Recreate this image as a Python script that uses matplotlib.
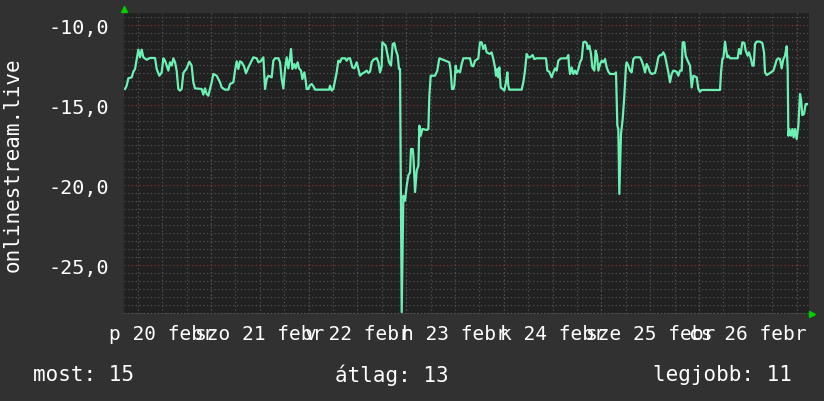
import numpy as np
import matplotlib.pyplot as plt
from matplotlib.ticker import MultipleLocator, FuncFormatter

plt.rcParams['font.family'] = 'DejaVu Sans Mono'

# hours since feb 20 00:00, value
hours = [2.85, 3.26, 3.67, 4.49, 4.90, 5.31, 5.72, 6.13, 6.54, 6.95, 7.36, 8.18, 9.0, 10.23,
         10.64, 11.29, 11.87, 12.28, 12.69, 13.1, 13.51, 13.92, 14.33, 14.74, 15.15, 15.55,
         15.96, 16.37, 16.78, 17.19, 18.01, 18.67, 19.24, 19.65, 20.06, 21.70, 22.11, 22.52,
         22.93, 23.34, 23.75, 24.16, 24.57, 25.39, 26.21, 26.62, 27.44, 28.26, 28.67, 29.49,
         29.9, 30.31, 30.72, 31.13, 31.54, 32.11, 32.6, 33.18, 34.0, 34.41, 35.23, 35.64,
         36.21, 36.87, 37.28, 37.69, 38.1, 38.92,
         39.33, 39.74, 40.56, 40.97, 41.38, 41.79, 42.2, 42.61, 43.02, 43.43, 43.67, 44.0,
         44.49, 44.82, 45.31, 45.64, 46.13, 46.46, 46.95, 47.28, 47.53, 47.94, 48.35, 48.76,
         49.17, 49.58, 53.02, 53.26, 53.67, 54.08, 54.49, 54.9, 55.31, 55.72, 56.13, 56.95,
         57.36, 57.77, 58.18, 58.76, 59.25, 59.82, 60.23, 60.64, 61.05, 61.71, 62.28, 62.69,
         63.1, 63.51, 63.92, 64.74, 65.15, 65.56, 65.97, 66.13, 66.54, 66.95, 67.45, 67.77,
         68.26, 68.67, 69.08, 69.49, 69.9, 70.23, 70.48,
         70.89, 71.3, 71.71, 72.12, 72.53, 72.94, 73.18, 73.59, 73.76, 74.17, 74.58, 74.99,
         75.23, 75.56, 75.97, 77.03, 77.44, 77.69, 78.02, 79.08,
         79.65, 80.14, 82.6, 82.93, 83.26, 83.59, 83.83, 84.16, 84.41, 84.82, 85.23, 85.64,
         86.05, 87.68, 88.09, 88.5, 88.91, 89.32, 89.73, 90.14, 90.55, 90.96, 91.37, 91.78,
         92.6, 93.01, 93.42, 93.83, 94.08, 94.41, 94.65, 94.9, 95.23, 95.72, 96.13, 96.54,
         96.87, 97.11, 97.36, 100.39, 100.8, 101.21, 101.62, 102.03, 102.44, 103.1, 103.5,
         104.08, 106.37, 106.7, 107.19, 107.77, 108.18, 108.59, 109.0, 109.41, 109.82,
         110.23, 111.46, 111.87, 112.03, 112.28, 112.69, 113.1, 113.51, 113.92, 114.33,
         114.74, 115.15, 115.56, 115.97, 116.38, 116.62, 117.03, 117.44, 117.77, 118.26,
         118.59, 118.92, 119.25, 119.66, 120.07, 120.48, 120.89, 121.3, 121.71, 122.12,
         123.35, 123.59, 123.92, 124.16, 124.41, 124.82, 125.23, 125.64, 126.05,
         126.21, 126.62, 127.03, 127.44, 127.85, 128.26, 129.49, 129.9, 130.31, 130.72,
         131.13, 131.54, 131.95, 132.36, 133.18, 133.59, 134.0, 134.41, 134.82, 135.23,
         135.64, 136.05, 136.46, 136.87, 137.28, 137.69, 138.51, 138.92, 139.33, 139.74,
         139.98, 140.39, 140.72, 141.21, 141.79, 142.2, 142.61, 143.43, 143.84, 144.08,
         144.25, 144.66, 149.17, 149.41, 149.74, 149.99, 150.4, 150.64, 150.97, 151.22,
         151.63, 153.51, 153.84, 154.25, 154.66, 155.15, 155.48, 155.97, 156.3, 156.79,
         157.12, 157.45, 157.77, 158.18, 159.0, 159.58, 159.99, 160.23, 160.64, 161.71,
         162.28, 162.69, 163.1, 163.51, 163.92, 164.33, 164.74, 165.15, 165.56, 165.81,
         165.97, 166.22, 166.63, 166.96, 167.28, 167.61, 168.02, 168.43, 168.84, 169.09,
         169.41, 169.82, 170.23, 170.56]
values = [-14.0, -13.79, -13.33, -13.27, -12.92, -12.75, -12.13, -11.54, -12.02, -11.54, -12.02,
          -12.17, -12.06, -12.06, -12.75, -13.17, -12.96, -12.08, -12.23, -12.54, -12.85,
          -12.33, -12.54, -12.08, -12.33, -12.85, -14.0, -14.1, -14.0, -13.0, -12.71, -12.29,
          -12.54, -13.58, -13.96, -14.0, -14.35, -13.96, -14.31, -14.42, -14.0, -13.58,
          -13.06, -13.17, -13.58, -13.9, -14.04, -14.04, -13.69, -13.58, -12.85, -12.27,
          -12.75, -12.27, -12.33, -12.58, -13.02, -12.65, -12.23, -12.02, -12.08, -12.33,
          -12.27, -12.02, -14.0, -13.38, -13.17, -13.27,
          -12.23, -12.08, -12.08, -12.33, -13.38, -13.96, -12.75, -12.02, -12.71, -12.02,
          -11.5, -12.75, -12.44, -12.71, -12.33, -12.71, -12.85, -13.38, -12.96, -13.48,
          -14.0, -14.0, -13.75, -13.69, -13.83, -14.04, -14.04, -13.79, -14.1, -14.0, -13.48,
          -12.96, -12.23, -12.33, -12.08, -12.08, -12.23, -12.08, -12.08, -12.65, -12.71,
          -12.33, -12.75, -13.17, -13.06, -12.96, -12.85, -13.0, -12.92, -12.33, -12.17,
          -12.06, -12.33, -12.96, -12.58, -11.08, -11.19, -11.29, -11.92, -12.33, -12.54,
          -11.19, -11.13, -11.6, -11.92, -12.75, -12.75,
          -27.94, -20.67, -20.98, -20.04, -19.4, -19.21, -17.75, -17.75, -18.17, -20.44,
          -19.1, -18.79, -16.29, -16.92, -16.5, -16.56, -16.5, -14.42, -13.17, -13.17,
          -12.85, -12.08, -12.33, -12.85, -14.0, -14.0, -13.79, -12.54, -12.96, -12.85,
          -12.96, -12.44, -12.08, -12.08, -12.54, -12.58, -12.23, -12.17, -12.08, -11.08,
          -11.08, -11.5, -11.25, -11.71, -11.81, -11.71, -12.13, -12.65, -13.17, -12.75,
          -13.27, -12.65, -13.9, -14.0, -14.1, -13.58, -12.96, -13.79, -14.04, -14.04,
          -13.58, -12.85, -11.81, -12.02, -12.02, -11.88, -12.13, -12.08, -12.08, -12.85,
          -12.92, -13.27, -12.96, -12.71, -12.85, -12.23, -12.13,
          -12.08, -12.08, -11.88, -12.54, -13.06, -12.65, -13.06, -12.85, -13.06, -12.75,
          -12.33, -12.13, -11.08, -11.04, -11.13, -11.5, -11.29, -11.81, -12.65, -12.85,
          -11.6, -11.92, -12.85, -12.44, -12.23, -12.33, -12.13, -12.65, -12.92, -13.06,
          -13.06, -12.96, -16.29, -16.5, -20.56, -16.8, -15.88, -14.42, -12.54,
          -12.33, -12.54, -12.85, -12.96, -12.13, -12.02, -12.02, -12.23, -12.54, -12.96,
          -12.44, -12.65, -12.96, -13.06, -13.0, -12.58, -12.02, -11.88, -11.88, -11.71,
          -11.92, -12.44, -12.96, -13.58, -13.06, -12.85, -12.92, -13.17, -12.85, -12.85,
          -11.08, -11.08, -11.92, -12.23, -12.54, -13.9, -13.17, -13.27, -14.0, -14.1,
          -14.17, -14.06, -14.06, -12.96, -12.13, -12.08, -11.04, -11.5, -12.02, -11.92,
          -12.08, -12.08, -11.5, -11.81, -11.08, -11.13, -11.6, -11.92, -11.71, -12.13,
          -12.54, -12.54, -11.19, -11.04, -11.04, -11.13, -11.71, -12.96, -13.13, -12.96,
          -12.85, -12.54, -12.17, -12.08, -12.13, -12.71, -12.13, -11.92, -11.33, -12.75,
          -16.92, -16.5, -16.92, -16.5, -17.02, -16.5, -17.13, -16.29, -14.31, -14.63,
          -15.63, -15.56, -14.94, -14.94]

day_labels = ['p 20 febr', 'szo 21 febr', 'v 22 febr', 'h 23 febr',
              'k 24 febr', 'sze 25 febr', 'cs 26 febr']
label_hours = [12, 36, 60, 84, 108, 132, 156]
midnights = [24, 48, 72, 96, 120, 144, 168]
y_ticks = [-10, -15, -20, -25]
ylabel = 'onlinestream.live'
legend_texts = ['most: 15', 'átlag: 13', 'legjobb: 11']

bg = '#313131'
canvas = '#212121'
line_color = '#6cf0b4'
minor_col = '#505050'
major_col = '#7a3636'

fig = plt.figure(figsize=(8.24, 4.02), dpi=100, facecolor=bg)
ax = fig.add_axes([124/824, 1-315/402, (809-124)/824, (315-14)/402])
ax.set_facecolor(canvas)
ax.set_xlim(2.6, 171.05)
ax.set_ylim(-28.06, -9.25)

ax.xaxis.set_minor_locator(MultipleLocator(6))
ax.yaxis.set_minor_locator(MultipleLocator(0.5))
ax.xaxis.remove_overlapping_locs = False
ax.set_xticks(label_hours)
ax.set_xticklabels(day_labels)
ax.set_yticks(y_ticks)
ax.yaxis.set_major_formatter(FuncFormatter(lambda v, p: f'{v:.1f}'.replace('.', ',')))
ax.grid(which='minor', color=minor_col, linestyle=(0, (1, 2)), linewidth=0.9)
for h in midnights:
    ax.axvline(h, color=major_col, linestyle=(0, (1, 2)), linewidth=0.9, zorder=1)
for v in y_ticks:
    ax.axhline(v, color=major_col, linestyle=(0, (1, 2)), linewidth=0.9, zorder=1)

ax.plot(hours, values, color=line_color, linewidth=1.6, zorder=3)

ax.tick_params(which='both', length=0, colors='white')
ax.tick_params(axis='y', labelsize=14.5, pad=11)
ax.tick_params(axis='x', labelsize=14, pad=7)
for s in ax.spines.values():
    s.set_visible(False)
ax.axhline(-28.06, color='#555555', linestyle=(0, (1, 1)), linewidth=1.2, zorder=2)

ax.set_ylabel(ylabel, color='white', fontsize=15, labelpad=18)

# rrdtool style arrows
ax.plot([0], [1.014], marker='^', color='#00d000', markersize=4.5, transform=ax.transAxes, clip_on=False)
ax.plot([1.005], [0], marker='>', color='#00d000', markersize=4.5, transform=ax.transAxes, clip_on=False)

fig.text(33/824, 1-375/402, legend_texts[0], color='white', fontsize=15, va='center', ha='left')
fig.text(335/824, 1-375/402, legend_texts[1], color='white', fontsize=15, va='center', ha='left')
fig.text(792/824, 1-375/402, legend_texts[2], color='white', fontsize=15, va='center', ha='right')

fig.savefig('out.png', dpi=100, facecolor=bg)
